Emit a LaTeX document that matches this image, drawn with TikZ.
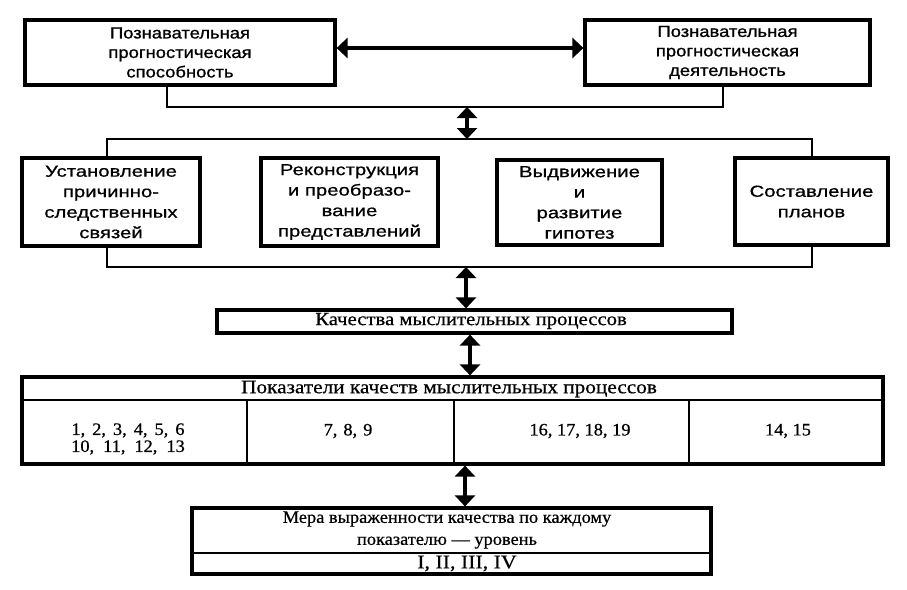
\documentclass[tikz,border=0pt]{standalone}
\usepackage{fontspec}
\setmainfont{Liberation Serif}
\newfontfamily\sansA[FakeStretch=1.15,FakeBold=1]{Liberation Sans}
\newfontfamily\sansB[FakeStretch=1.27,FakeBold=0.7]{Liberation Sans}
\newfontfamily\serA[FakeStretch=1.12,FakeBold=0.6]{Liberation Serif}
\newfontfamily\serB[FakeStretch=1.05,FakeBold=0.6]{Liberation Serif}
\usetikzlibrary{arrows.meta}
\begin{document}
\begin{tikzpicture}[x=1pt,y=-1pt,
  box/.style={draw, line width=3.2pt, inner sep=0pt, align=center},
  sbox/.style={box, font={\sansA\fontsize{16}{19.5}\selectfont}},
  rbox/.style={box, font={\sansB\fontsize{16}{20.5}\selectfont}},
  hdr/.style={inner sep=0pt, align=center, font={\serA\fontsize{19}{22}\selectfont}},
  num/.style={inner sep=0pt, align=center, font={\serB\fontsize{17.5}{17}\selectfont}},
  mtext/.style={inner sep=0pt, align=center, font={\serB\fontsize{17.5}{22}\selectfont}},
  brk/.style={line width=2.3pt},
  thin/.style={line width=2pt},
  dbl/.style={line width=3.2pt, {Triangle[width=20pt,length=11pt]}-{Triangle[width=20pt,length=11pt]}}
]
\useasboundingbox (0,0) rectangle (907,589);
\fill[white] (0,0) rectangle (907,589);

% top row
\node[sbox, minimum width=310pt, minimum height=65pt] (A) at (180,52.5)
  {Познавательная\\прогностическая\\способность};
\node[sbox, minimum width=285pt, minimum height=65pt] (B) at (727.5,52.5)
  {Познавательная\\прогностическая\\деятельность};
\coordinate (ya) at (0,48);
\draw[dbl] (A.east |- ya) -- (B.west |- ya);

% bracket under top row
\coordinate (b1) at (167,107);
\coordinate (b2) at (723,107);
\draw[brk] (A.south -| b1) -- (b1) -- (b2) -- (B.south -| b2);

% second row
\node[rbox, minimum width=178pt, minimum height=88pt] (C1) at (111,202)
  {Установление\\причинно-\\следственных\\связей};
\node[rbox, minimum width=177pt, minimum height=88pt] (C2) at (349.5,202)
  {Реконструкция\\и преобразо-\\вание\\представлений};
\node[rbox, minimum width=165pt, minimum height=85pt] (C3) at (579.5,202.5)
  {Выдвижение\\и\\развитие\\гипотез};
\node[rbox, minimum width=153pt, minimum height=87pt] (C4) at (811.5,201.5)
  {Составление\\планов};

\coordinate (t1) at (107,139);
\coordinate (t2) at (812,139);
\coordinate (u1) at (107,267);
\coordinate (u2) at (812,267);
\draw[brk] (C1.north -| t1) -- (t1) -- (t2) -- (C4.north -| t2);
\draw[brk] (C1.south -| u1) -- (u1) -- (u2) -- (C4.south -| u2);

\coordinate (a1) at (467,0);
\draw[dbl] (a1 |- b1) -- (a1 |- t1);

% qualities
\node[box, minimum width=515pt, minimum height=23pt] (Q) at (474.5,321.5) {};
\node[hdr, font={\serA\fontsize{18.5}{22}\selectfont}] (Qt) at (471,321) {Качества мыслительных процессов};
\coordinate (a2) at (466,0);
\draw[dbl] (a2 |- u1) -- (a2 |- Q.north);

% indicators table
\node[box, minimum width=861pt, minimum height=87pt] (T) at (452.5,420.5) {};
\coordinate (h) at (0,400);
\coordinate (k1) at (247,0);
\coordinate (k2) at (454,0);
\coordinate (k3) at (689,0);
\draw[thin] (T.west |- h) -- (T.east |- h);
\draw[thin] (k1 |- h) -- (k1 |- T.south);
\draw[thin] (k2 |- h) -- (k2 |- T.south);
\draw[thin] (k3 |- h) -- (k3 |- T.south);
\node[hdr] (Th) at (449,389) {Показатели качеств мыслительных процессов};
\node[num] (T1) at (128,439)
  {1,\hspace{7pt}2,\hspace{7pt}3,\hspace{7pt}4,\hspace{7pt}5,\hspace{7pt}6\\10,\hspace{9pt}11,\hspace{9pt}12,\hspace{9pt}13};
\node[num] (T2) at (348,431) {7,\hspace{6pt}8,\hspace{6pt}9};
\node[num] (T3) at (580,431) {16, 17, 18, 19};
\node[num] (T4) at (788,431) {14, 15};
\coordinate (a3) at (470,0);
\draw[dbl] (a3 |- Q.south) -- (a3 |- T.north);

% measure box
\node[box, minimum width=519pt, minimum height=66pt] (M) at (451.5,541) {};
\coordinate (m) at (0,553);
\draw[thin] (M.west |- m) -- (M.east |- m);
\node[mtext] (Mt) at (447,530) {Мера выраженности качества по каждому\\показателю — уровень};
\node[hdr, font={\serA\fontsize{19.5}{22}\selectfont}] (Ml) at (467,563.5) {I, II, III, IV};
\coordinate (a4) at (465,0);
\draw[dbl] (a4 |- T.south) -- (a4 |- M.north);
\end{tikzpicture}
\end{document}
